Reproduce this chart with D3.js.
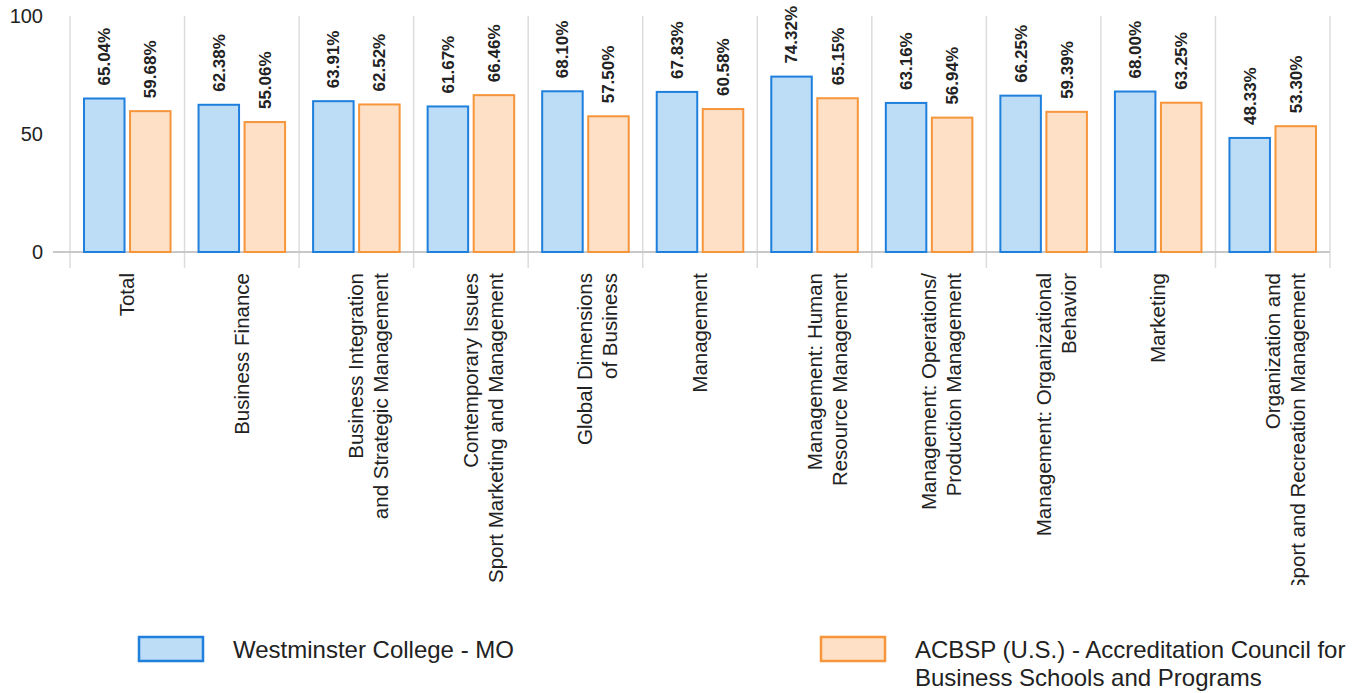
<!DOCTYPE html>
<html>
<head>
<meta charset="utf-8">
<script src="https://cdn.jsdelivr.net/npm/d3@7"></script>
<style>
  html, body { margin: 0; padding: 0; background: #fff; }
  svg { display: block; font-family: "Liberation Sans", Arial, sans-serif; }
</style>
</head>
<body>
<svg id="chart" width="1364" height="693"></svg>
<script>
// Category labels (line breaks marked with \n)
const categories = [
  "Total",
  "Business Finance",
  "Business Integration\nand Strategic Management",
  "Contemporary Issues\nSport Marketing and Management",
  "Global Dimensions\nof Business",
  "Management",
  "Management: Human\nResource Management",
  "Management: Operations/\nProduction Management",
  "Management: Organizational\nBehavior",
  "Marketing",
  "Organization and\nSport and Recreation Management"
];
const seriesNames = [
  "Westminster College - MO",
  "ACBSP (U.S.) - Accreditation Council for\nBusiness Schools and Programs"
];
const westminster = [65.04, 62.38, 63.91, 61.67, 68.10, 67.83, 74.32, 63.16, 66.25, 68.00, 48.33];
const acbsp       = [59.68, 55.06, 62.52, 66.46, 57.50, 60.58, 65.15, 56.94, 59.39, 63.25, 53.30];
const yTicks = [0, 50, 100];

const fills   = ["#bddcf5", "#fde0c6"];
const strokes = ["#1f7fdd", "#f7953b"];

const svg = d3.select("#chart");
const plotLeft = 70, plotRight = 1330, plotTop = 16, plotBottom = 252;

const x0 = d3.scaleBand().domain(d3.range(categories.length)).range([plotLeft, plotRight]).padding(0);
const x1 = d3.scaleBand().domain([0, 1]).range([14, x0.bandwidth() - 14]).paddingInner(0.12);
const y = d3.scaleLinear().domain([0, 100]).range([plotBottom, plotTop]);

// Category separators
const edges = d3.range(categories.length + 1).map(i => plotLeft + i * x0.step());
svg.append("g").selectAll("line").data(edges).join("line")
  .attr("x1", d => d).attr("x2", d => d)
  .attr("y1", plotTop).attr("y2", plotBottom + 16)
  .attr("stroke", "#dcdcdc").attr("stroke-width", 1.5);

// Baseline
svg.append("line")
  .attr("x1", 53).attr("x2", plotRight)
  .attr("y1", y(0)).attr("y2", y(0))
  .attr("stroke", "#c8c8c8").attr("stroke-width", 2);

// Y axis labels
const yAxis = d3.axisLeft(y).tickValues(yTicks).tickSize(0).tickPadding(0);
const gy = svg.append("g").attr("transform", `translate(43,0)`).call(yAxis);
gy.select(".domain").remove();
gy.selectAll("text").attr("font-size", 20).attr("fill", "#222")
  .attr("font-family", "'Liberation Sans', Arial, sans-serif");

// Bars
const rows = categories.map((c, i) => [westminster[i], acbsp[i]]);
const groups = svg.append("g").selectAll("g").data(rows).join("g")
  .attr("transform", (d, i) => `translate(${x0(i)},0)`);

groups.selectAll("rect").data(d => d.map((v, s) => ({ v, s }))).join("rect")
  .attr("x", d => x1(d.s))
  .attr("y", d => y(d.v))
  .attr("width", x1.bandwidth())
  .attr("height", d => y(0) - y(d.v))
  .attr("fill", d => fills[d.s])
  .attr("stroke", d => strokes[d.s])
  .attr("stroke-width", 2);

// Value labels
groups.selectAll("text.val").data(d => d.map((v, s) => ({ v, s }))).join("text")
  .attr("class", "val")
  .attr("transform", d => `translate(${x1(d.s) + x1.bandwidth() / 2},${y(d.v) - 13}) rotate(-90)`)
  .attr("dy", "0.35em")
  .attr("font-size", 17).attr("font-weight", "bold").attr("fill", "#222")
  .text(d => d.v.toFixed(2) + "%");

// Category labels
svg.append("clipPath").attr("id", "labelClip")
  .append("rect").attr("x", 0).attr("y", 262).attr("width", 1364).attr("height", 323);
const gl = svg.append("g").attr("clip-path", "url(#labelClip)");
categories.forEach((c, i) => {
  const cx = x0(i) + x0.bandwidth() / 2;
  const lines = c.split("\n");
  const t = gl.append("text")
    .attr("transform", `translate(${cx},273) rotate(-90)`)
    .attr("text-anchor", "end")
    .attr("font-size", 20.5).attr("fill", "#222");
  lines.forEach((ln, k) => {
    t.append("tspan").attr("x", 0).attr("y", 7 + k * 25).text(ln);
  });
});

// Legend
const legendItems = [
  { x: 139, tx: 233 },
  { x: 821, tx: 915 }
];
legendItems.forEach((p, s) => {
  svg.append("rect").attr("x", p.x).attr("y", 637).attr("width", 64).attr("height", 24)
    .attr("fill", fills[s]).attr("stroke", strokes[s]).attr("stroke-width", 2.5);
  const t = svg.append("text").attr("font-size", 24).attr("fill", "#222");
  seriesNames[s].split("\n").forEach((ln, k) => {
    t.append("tspan").attr("x", p.tx).attr("y", 658 + k * 28).text(ln);
  });
});
</script>
</body>
</html>
